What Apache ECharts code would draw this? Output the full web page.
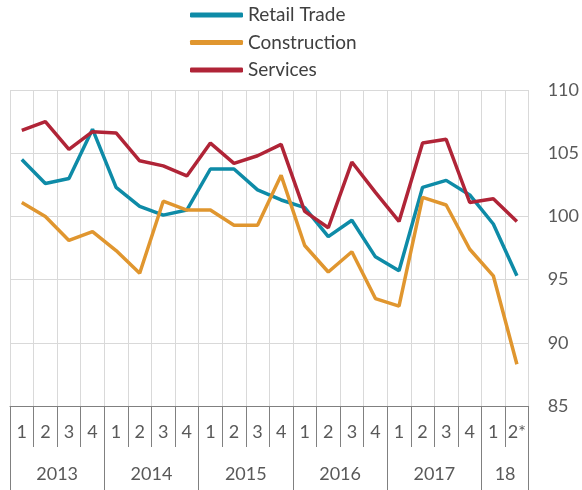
<!DOCTYPE html>
<html>
<head>
<meta charset="utf-8">
<script src="https://cdn.jsdelivr.net/npm/echarts@6/dist/echarts.min.js"></script>
<style>
  html, body { margin: 0; padding: 0; background: #fff; }
  #chart { width: 582px; height: 490px; }
</style>
</head>
<body>
<div id="chart"></div>
<script>
// quarter labels along the bottom axis
var quarters = ['1', '2', '3', '4', '1', '2', '3', '4', '1', '2', '3', '4',
    '1', '2', '3', '4', '1', '2', '3', '4', '1', '2*']
// year groups and how many quarters each spans
var years = ['2013', '2014', '2015', '2016', '2017', '18']
var yearSpans = [4, 4, 4, 4, 4, 2]

var retailTrade = [104.5, 102.6, 103.0, 106.9, 102.3, 100.8, 100.1, 100.5, 103.75, 103.75, 102.1, 101.3,
    100.7, 98.4, 99.7, 96.8, 95.7, 102.3, 102.85, 101.7, 99.4, 95.3]
var construction = [101.1, 100.0, 98.1, 98.8, 97.3, 95.5, 101.2, 100.5, 100.5, 99.3, 99.3, 103.25,
    97.7, 95.6, 97.2, 93.5, 92.9, 101.5, 100.9, 97.4, 95.3, 88.3]
var services = [106.8, 107.5, 105.3, 106.7, 106.6, 104.4, 104.0, 103.2, 105.8, 104.2, 104.8, 105.7,
    100.4, 99.1, 104.3, 101.9, 99.6, 105.8, 106.1, 101.1, 101.4, 99.6]

// year boundaries and label centres on a 0..22 scale
var yearTicks = [0]
var yearCentres = []
var acc = 0
yearSpans.forEach(function(n) {
    yearCentres.push(acc + n / 2)
    acc += n
    yearTicks.push(acc)
})

var font = 'Lato, "Open Sans", sans-serif'
var textColor = '#595959'
var axisColor = '#808080'
var gridColor = '#d9d9d9'

var chart = echarts.init(document.getElementById('chart'))
chart.setOption({
    animation: false,
    textStyle: { fontFamily: font },
    legend: {
        orient: 'vertical',
        left: 190,
        top: 5,
        padding: 0,
        itemWidth: 53,
        itemHeight: 5,
        itemGap: 7.5,
        icon: 'roundRect',
        textStyle: { fontSize: 19, color: '#404040', lineHeight: 20, fontFamily: font },
        data: ['Retail Trade', 'Construction', 'Services']
    },
    grid: { left: 10, right: 53, top: 90, bottom: 84 },
    xAxis: [
        {
            type: 'category',
            data: quarters,
            position: 'bottom',
            boundaryGap: true,
            axisLine: { lineStyle: { color: axisColor, width: 1 } },
            axisTick: { show: true, interval: 0, length: 41, lineStyle: { color: axisColor } },
            axisLabel: { interval: 0, margin: 17, fontSize: 18, color: textColor, fontFamily: font },
            splitLine: { show: true, interval: 0, lineStyle: { color: gridColor, width: 1 } }
        },
        {
            type: 'value',
            position: 'bottom',
            min: 0,
            max: 22,
            interval: 2,
            axisLine: { show: false },
            splitLine: { show: false },
            axisTick: { show: true, customValues: yearTicks, length: 85, lineStyle: { color: axisColor } },
            axisLabel: {
                customValues: yearCentres,
                margin: 59,
                fontSize: 18,
                color: textColor,
                fontFamily: font,
                formatter: function(v) {
                    var i = yearCentres.indexOf(v)
                    return i >= 0 ? years[i] : ''
                }
            }
        }
    ],
    yAxis: {
        type: 'value',
        position: 'right',
        min: 85,
        max: 110,
        interval: 5,
        axisLine: { show: false },
        axisTick: { show: false },
        axisLabel: { margin: 19, fontSize: 18, color: textColor, fontFamily: font },
        splitLine: { show: true, lineStyle: { color: gridColor, width: 1 } }
    },
    series: [
        {
            name: 'Retail Trade',
            type: 'line',
            data: retailTrade,
            symbol: 'none',
            color: '#0e8ba7',
            lineStyle: { width: 3.5 }
        },
        {
            name: 'Construction',
            type: 'line',
            data: construction,
            symbol: 'none',
            color: '#e0962f',
            lineStyle: { width: 3.5 }
        },
        {
            name: 'Services',
            type: 'line',
            data: services,
            symbol: 'none',
            color: '#b02437',
            lineStyle: { width: 3.5 }
        }
    ]
})
</script>
</body>
</html>
